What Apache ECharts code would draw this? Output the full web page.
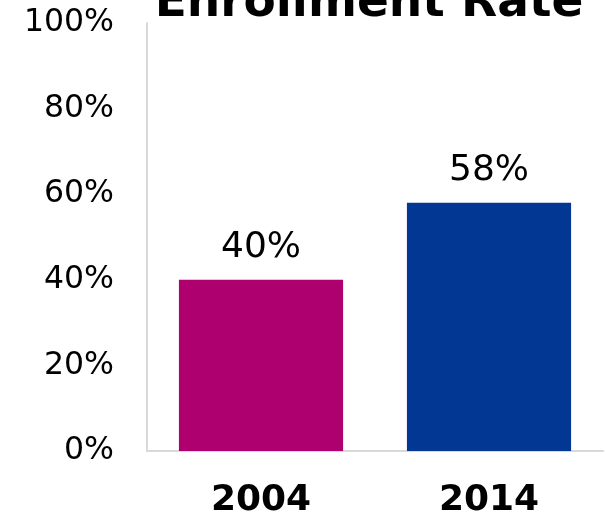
<!DOCTYPE html>
<html>
<head>
<meta charset="utf-8">
<script src="https://cdn.jsdelivr.net/npm/echarts@6/dist/echarts.min.js"></script>
<style>
  html, body { margin: 0; padding: 0; background: #ffffff; }
  #chart { width: 606px; height: 517px; }
</style>
</head>
<body>
<div id="chart"></div>
<script>
// Enrollment rate by year
const years = ["2004", "2014"];
const rates = [40, 58];
const barColors = ["#ae006f", "#023894"];
const yTicks = [0, 20, 40, 60, 80, 100];

const FONT = "DejaVu Sans";

const chart = echarts.init(document.getElementById("chart"), null, { renderer: "canvas" });

chart.setOption({
  animation: false,
  backgroundColor: "#ffffff",
  title: {
    text: "Enrollment Rate",
    left: 364,
    textAlign: "center",
    top: -25,
    textStyle: {
      fontFamily: FONT,
      fontWeight: "bold",
      fontSize: 47,
      color: "#000000"
    }
  },
  grid: {
    left: 147,
    right: 3,
    top: 23,
    bottom: 66,
    containLabel: false,
    outerBoundsMode: "none"
  },
  xAxis: {
    type: "category",
    data: years,
    axisLine: { show: true, lineStyle: { color: "#d9d9d9", width: 2 } },
    axisTick: { show: false },
    axisLabel: {
      margin: 32,
      fontFamily: FONT,
      fontWeight: "bold",
      fontSize: 36,
      color: "#000000"
    }
  },
  yAxis: {
    type: "value",
    min: yTicks[0],
    max: yTicks[yTicks.length - 1],
    interval: yTicks[1] - yTicks[0],
    axisLine: { show: true, lineStyle: { color: "#d9d9d9", width: 2 } },
    axisTick: { show: false },
    splitLine: { show: false },
    axisLabel: {
      margin: 33,
      fontFamily: FONT,
      fontSize: 31.5,
      color: "#000000",
      formatter: v => v + "%"
    }
  },
  series: [{
    type: "bar",
    barWidth: "72%",
    data: rates.map((v, i) => ({ value: v, itemStyle: { color: barColors[i] } })),
    label: {
      show: true,
      position: "top",
      distance: 14,
      fontFamily: FONT,
      fontSize: 36,
      color: "#000000",
      formatter: p => p.value + "%"
    }
  }]
});
</script>
</body>
</html>
